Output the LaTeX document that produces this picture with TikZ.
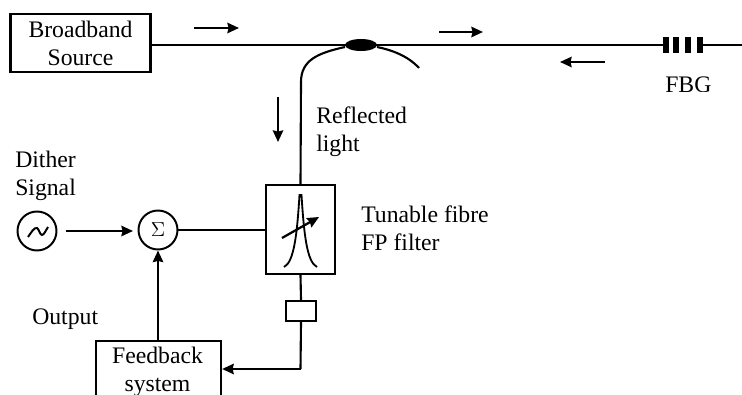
\documentclass[tikz,border=0pt]{standalone}
\usepackage{fontspec}
\setmainfont{Liberation Serif}
\usetikzlibrary{arrows.meta,positioning,calc,shapes.geometric}
\tikzset{
  unit/.style={draw,line width=1.5pt,fill=white,inner sep=0pt},
  label/.style={font=\fontsize{16.85}{19.9}\selectfont,align=left,anchor=west,inner sep=0pt},
  boxlabel/.style={label,anchor=center,align=center},
  fibre/.style={line width=1.5pt},
  signal/.style={-{Stealth[length=2.9mm,width=2.6mm,inset=0.3mm]},line width=1.6pt},
  flow/.style={-{Stealth[length=2.9mm,width=2.6mm,inset=0.3mm]},line width=1.6pt}
}
\begin{document}
\begin{tikzpicture}[x=0.025cm,y=-0.025cm]
\useasboundingbox (0,0) rectangle (742,394);
\begin{scope}
\clip (0,0) rectangle (742,394);
\node[unit,minimum width=3.5cm,minimum height=1.45cm] (source) at (80.5,43) {};
\node[boxlabel] (sourcetext) at (80.5,43) {Broadband\\Source};
\node[ellipse,fill=black,inner sep=0pt,minimum width=0.8cm,minimum height=0.3cm] (coupler) at (361,45) {};
\node[unit,minimum width=1.725cm,minimum height=2.225cm] (filter) at (300.5,229.5) {};
\node[unit,minimum width=0.75cm,minimum height=0.5cm] (tap) at (301,311) {};
\node[unit,minimum width=3.125cm,minimum height=2cm,anchor=north west] (feedback) at (95,340) {};
\node[boxlabel] (feedbacktext) at (157.5,371.5) {Feedback\\system};
\node[circle,draw,line width=1.4pt,minimum size=0.975cm,inner sep=0pt,font=\fontsize{15}{15}\selectfont] (sum) at (158,230) {\raisebox{-3pt}{$\Sigma$}};
\node[circle,draw,line width=1.4pt,minimum size=0.975cm,inner sep=0pt] (dither) at (37,231) {};
\coordinate (fbgin) at (663,45);
\coordinate (fbgout) at (702,45);
\coordinate (fibreend) at (742,45);
\coordinate (dropend) at (419,68);
\coordinate (ditherout) at (66,231);
\coordinate (sumin) at (133,231);
\coordinate (feedbackup) at (158,340);
\coordinate (corner) at (300.5,369);

\draw[fibre](source.east|-fbgin)--(fbgin);
\draw[fibre](fbgout)--(fibreend);
\draw[fibre](345,47) .. controls (318,53) and (301,60) .. (301,82)--(filter.north);
\draw[fibre](377,47) .. controls (392,50) and (408,56) .. (dropend);
\draw[fibre](sum)--(filter.west|-sum);
\draw[fibre](filter.south)--(tap.north);
\draw[fibre](tap.south)--(corner);
\draw[signal](corner)--(feedback.east|-corner);
\draw[signal](ditherout)--(sumin);
\draw[signal](feedbackup)--(sum.south);

% FBG grating
\foreach \x in {666,676,688,699.5}
  \fill (\x-3,37) rectangle (\x+3,53);

% direction of light
\coordinate (a1) at (194,28); \coordinate (a2) at (239,28);
\coordinate (b1) at (439,32); \coordinate (b2) at (483,32);
\coordinate (c1) at (605,62); \coordinate (c2) at (560,62);
\coordinate (d1) at (278,97); \coordinate (d2) at (278,142);
\draw[flow](a1)--(a2);
\draw[flow](b1)--(b2);
\draw[flow](c1)--(c2);
\draw[flow](d1)--(d2);

% sine in source, peak and tuning arrow in filter
\draw[line width=1.4pt](28,237) .. controls (31,233) and (34,227) .. (37,228) .. controls (39,229) and (40,235) .. (42,235) .. controls (44,235) and (46,230) .. (48,227);
\draw[line width=1.3pt](284,267) .. controls (294,262) and (297,235) .. (299.5,195)--(301.5,195) .. controls (304,235) and (307,262) .. (317,267);
\draw[signal](282,238)--(319,217);

\node[label] (reflected) at (316,131.5) {Reflected\\light};
\node[label] (dithertext) at (15,176) {Dither\\Signal};
\node[label] (tunable) at (361,228.5) {Tunable fibre\\FP filter};
\node[label,anchor=base west] (output) at (32,324) {Output};
\begin{scope}
\clip (640,60) rectangle (742,91.5);
\node[label,anchor=base west] (fbg) at (665,92) {FBG};
\end{scope}
\end{scope}
\end{tikzpicture}
\end{document}
